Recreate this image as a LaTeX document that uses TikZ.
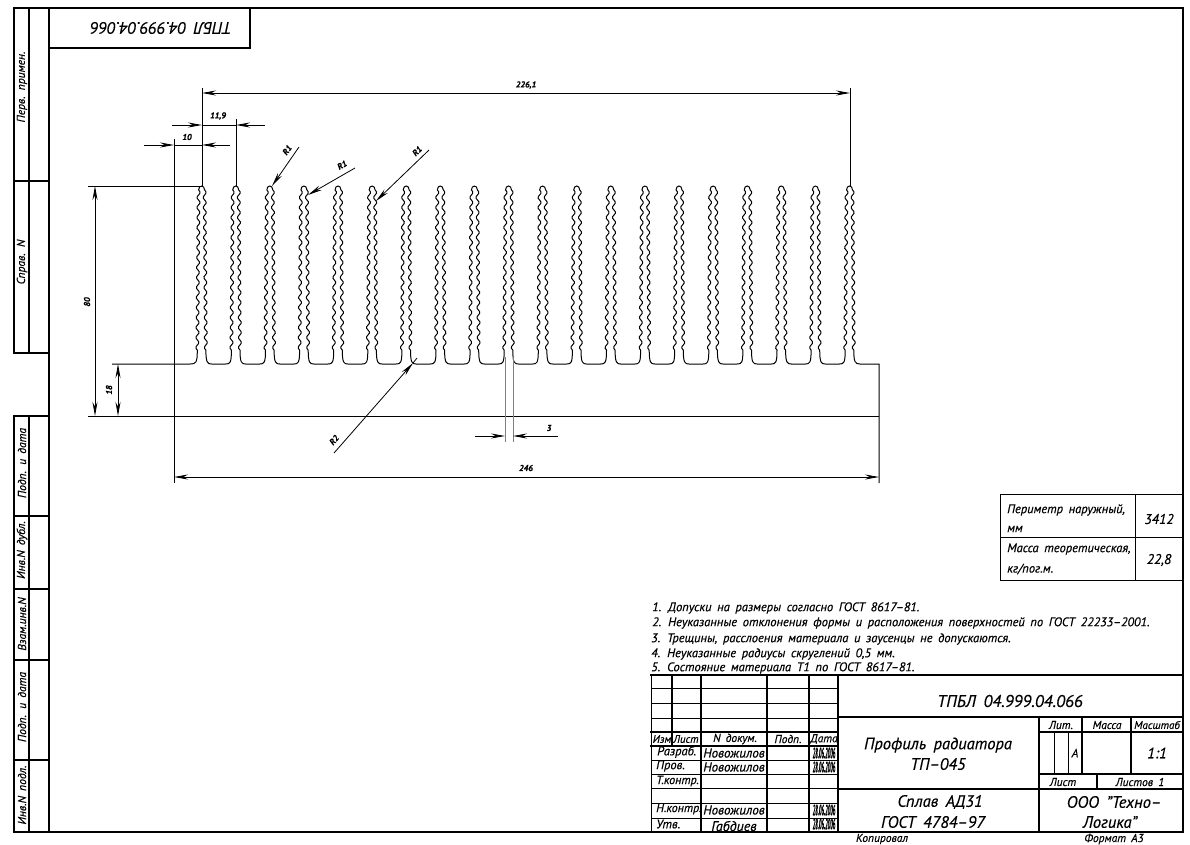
\documentclass[tikz,border=0pt]{standalone}
\usepackage{fontspec}
\setmainfont[WordSpace=1.7,FakeBold=0.35]{PT Sans}
\usetikzlibrary{arrows.meta}
\tikzset{
  thickline/.style={line width=1.8pt,line cap=rect},
  midline/.style={line width=1.2pt},
  thinline/.style={line width=0.8pt},
  profile/.style={line width=1pt},
  dimline/.style={line width=0.8pt},
  dimtip/.style={-{Stealth[length=14pt,width=5pt]}},
  dimboth/.style={{Stealth[length=14pt,width=5pt]}-{Stealth[length=14pt,width=5pt]}},
  lab/.style={font=\itshape\fontsize{#1}{#1}\selectfont,inner sep=0pt},
  dimlab/.style={font=\bfseries\itshape\fontsize{8.5}{8.5}\selectfont,inner sep=0pt}
}
\begin{document}
\begin{tikzpicture}[x=1pt,y=-1pt]
\useasboundingbox (0,0) rectangle (1190,844);
% frame
\draw[thickline] (49,8) rectangle (1183,832);
\draw[thickline] (49,8) -- (14,8) -- (14,353) -- (49,353);
\draw[thickline] (29,8) -- (29,353);
\draw[thickline] (14,181) -- (49,181);
\draw[thickline] (49,416) -- (14,416) -- (14,832) -- (49,832);
\draw[thickline] (29,416) -- (29,832);
\foreach \y in {516,589,660,760}
  \draw[thickline] (14,\y) -- (49,\y);
\draw[thickline] (49,48) -- (250,48) -- (250,8);
\node[lab=16.5,rotate=180] (stamp) at (161,28) {ТПБЛ 04.999.04.066};
\node[lab=11.5,rotate=90] (perv) at (22,87) {Перв. примен.};
\node[lab=11.5,rotate=90] (sprav) at (22,262) {Справ. N};
\node[lab=11.5,rotate=90] (podp1) at (22,463) {Подп. и дата};
\node[lab=11.5,rotate=90] (dubl) at (22,550) {Инв.N дубл.};
\node[lab=11.5,rotate=90] (vzam) at (22,624) {Взам.инв.N};
\node[lab=11.5,rotate=90] (podp2) at (22,707) {Подп. и дата};
\node[lab=11.5,rotate=90] (podl) at (22,795) {Инв.N подл.};
% fins
\foreach \i in {0,...,19} {
  \pgfmathsetmacro\cx{201.6+34.1*\i}
  \draw[profile] plot[smooth,variable=\t,domain=190:350,samples=97] ({\cx-3-(\t-190)*0.008+1.5*sin((\t-190)*36)},\t);
  \draw[profile] plot[smooth,variable=\t,domain=190:350,samples=97] ({\cx+3+(\t-190)*0.008+1.5*sin((\t-190)*36)},\t);
  \draw[profile] (\cx-3,190) .. controls (\cx-3,184.7) and (\cx+3,184.7) .. (\cx+3,190);
}
\foreach \i in {0,...,18} {
  \pgfmathsetmacro\cx{201.6+34.1*\i}
  \draw[profile] (\cx+4.3,350) .. controls (\cx+4.3,363) and (\cx+6,364) .. (\cx+10,364) -- (\cx+24,364) .. controls (\cx+28.5,364) and (\cx+29.8,363) .. (\cx+29.8,350);
}
\draw[profile] (112,364) -- (190,364) .. controls (196,364) and (197.3,363) .. (197.3,350);
\draw[profile] (853.8,350) .. controls (853.8,362) and (855,364) .. (860,364) -- (879,364) -- (879,483);
\draw[profile] (88,416) -- (879,416);
% dimensions
\draw[dimline] (88,186) -- (202,186);
\draw[dimline] (202,88) -- (202,186);
\draw[dimline] (850,88) -- (850,186);
\draw[dimline] (236,119) -- (236,186);
\draw[dimline] (174,139) -- (174,483);
\draw[dimline,dimboth] (202,93) -- (850,93);
\node[dimlab] (d226) at (526,85) {226,1};
\draw[dimline,dimtip] (172,125) -- (202,125);
\draw[dimline,dimtip] (265,125) -- (236,125);
\draw[dimline] (202,125) -- (236,125);
\node[dimlab] (d119) at (218,116) {11,9};
\draw[dimline,dimtip] (144,145) -- (174,145);
\draw[dimline,dimtip] (230,145) -- (202,145);
\draw[dimline] (174,145) -- (202,145);
\node[dimlab] (d10) at (187,137) {10};
\draw[dimline,dimboth] (95,186) -- (95,416);
\node[dimlab,rotate=90] (d80) at (87,302) {80};
\draw[dimline,dimboth] (118,364) -- (118,416);
\node[dimlab,rotate=90] (d18) at (109,390) {18};
\draw[dimline,dimboth] (174,477) -- (879,477);
\node[dimlab] (d246) at (526,468) {246};
\draw[dimline,gray] (505,357) -- (505,442);
\draw[dimline,gray] (513,357) -- (513,442);
\draw[dimline,dimtip] (475,436) -- (505,436);
\draw[dimline,dimtip] (558,436) -- (513,436);
\node[dimlab] (d3) at (549,428) {3};
\draw[dimline,dimtip] (299,147) -- (272,186);
\node[dimlab,rotate=55] (r1a) at (287,150) {R1};
\draw[dimline,dimtip] (355,168) -- (308,195);
\node[dimlab,rotate=30] (r1b) at (342,165) {R1};
\draw[dimline,dimtip] (429,150) -- (376,201);
\node[dimlab,rotate=45] (r1c) at (417,151) {R1};
\draw[dimline,dimtip] (334,453) -- (413,363);
\draw[dimline] (413,363) -- (417,358);
\node[dimlab,rotate=50] (r2) at (334,440) {R2};
% small table
\draw[thinline] (1000,494) -- (1183,494);
\draw[thinline] (1000,537) -- (1183,537);
\draw[thinline] (1000,580) -- (1183,580);
\draw[thinline] (1000,494) -- (1000,580);
\draw[thinline] (1135,494) -- (1135,580);
\node[lab=12.5,anchor=west] (perim) at (1007,510) {Периметр наружный,};
\node[lab=12.5,anchor=west] (mm) at (1007,529) {мм};
\node[lab=12.5,anchor=west] (mass) at (1007,549) {Масса теоретическая,};
\node[lab=12.5,anchor=west] (kg) at (1007,569) {кг/пог.м.};
\node[lab=14] (v3412) at (1159,519) {3412};
\node[lab=14] (v228) at (1159,560) {22,8};
% notes
\node[lab=12.5,anchor=west] (n1) at (652,608) {1. Допуски на размеры согласно ГОСТ 8617–81.};
\node[lab=12.5,anchor=west] (n2) at (652,623) {2. Неуказанные отклонения формы и расположения поверхностей по ГОСТ 22233–2001.};
\node[lab=12.5,anchor=west] (n3) at (651,639) {3. Трещины, расслоения материала и заусенцы не допускаются.};
\node[lab=12.5,anchor=west] (n4) at (651,654) {4. Неуказанные радиусы скруглений 0,5 мм.};
\node[lab=12.5,anchor=west] (n5) at (651,668) {5. Состояние материала Т1 по ГОСТ 8617–81.};
% title block
\draw[thickline] (651,675) -- (1183,675);
\draw[thinline] (651,675) -- (651,832);
\foreach \x in {672} \draw[midline] (\x,675) -- (\x,746);
\draw[thickline] (701,675) -- (701,832);
\foreach \x in {767,809} \draw[midline] (\x,675) -- (\x,832);
\draw[thickline] (838,675) -- (838,832);
\foreach \y in {688,703,718,760,774,788,803,818} \draw[thinline] (651,\y) -- (838,\y);
\foreach \y in {732,746} \draw[thickline] (651,\y) -- (838,\y);
\draw[thickline] (838,717) -- (1183,717);
\draw[thickline] (838,789) -- (1183,789);
\draw[thickline] (1039,717) -- (1039,832);
\draw[midline] (1039,732) -- (1183,732);
\draw[midline] (1039,774) -- (1183,774);
\draw[midline] (1082,717) -- (1082,774);
\draw[midline] (1131,717) -- (1131,774);
\draw[midline] (1097,774) -- (1097,789);
\draw[thinline] (1054,732) -- (1054,774);
\draw[thinline] (1068,732) -- (1068,774);
\node[lab=17] (tcode) at (1010,701) {ТПБЛ 04.999.04.066};
\node[lab=16.5] (tname) at (938,745) {Профиль радиатора};
\node[lab=16.5] (tprof) at (938,764) {ТП–045};
\node[lab=16.5] (talloy) at (940,802) {Сплав АД31};
\node[lab=16.5] (tgost) at (933,822) {ГОСТ 4784–97};
\node[lab=16.5] (torg) at (1114,802) {ООО "Техно–};
\node[lab=16.5] (torgb) at (1110,822) {Логика"};
\node[lab=11.5] (hlit) at (1061,725) {Лит.};
\node[lab=11.5] (hmass) at (1107,725) {Масса};
\node[lab=11] (hscale) at (1157,725) {Масштаб};
\node[lab=12] (vlit) at (1075,753) {А};
\node[lab=15] (vscale) at (1157,753) {1:1};
\node[lab=11.5] (hsheet) at (1063,782) {Лист};
\node[lab=11.5] (hsheets) at (1140,782) {Листов 1};
\node[lab=11.5] (hcopy) at (882,839) {Копировал};
\node[lab=11.5] (hfmt) at (1114,839) {Формат А3};
\node[lab=11] (cizm) at (662,739) {Изм};
\node[lab=11] (clist) at (686,739) {Лист};
\node[lab=11.5] (cdoc) at (735,739) {N докум.};
\node[lab=11.5] (cpodp) at (788,739) {Подп.};
\node[lab=11.5] (cdate) at (824,739) {Дата};
\node[lab=12.5,anchor=west] (rdev) at (657,752) {Разраб.};
\node[lab=12.5,anchor=west] (rchk) at (656,766) {Пров.};
\node[lab=12,anchor=west] (rtc) at (656,781) {Т.контр.};
\node[lab=12,anchor=west] (rnc) at (656,809) {Н.контр.};
\node[lab=12.5,anchor=west] (rapp) at (656,824) {Утв.};
\node[lab=13] (sdev) at (734,753) {Новожилов};
\node[lab=13] (schk) at (734,767) {Новожилов};
\node[lab=13] (snc) at (734,810) {Новожилов};
\node[lab=14] (sapp) at (734,826) {Габдиев};
\foreach \y/\nm in {753/da,767/db,810/dc,824/dd}
  \node[lab=15,xscale=0.31] (\nm) at (824,\y) {\bfseries 28.06.2006};
\end{tikzpicture}
\end{document}
